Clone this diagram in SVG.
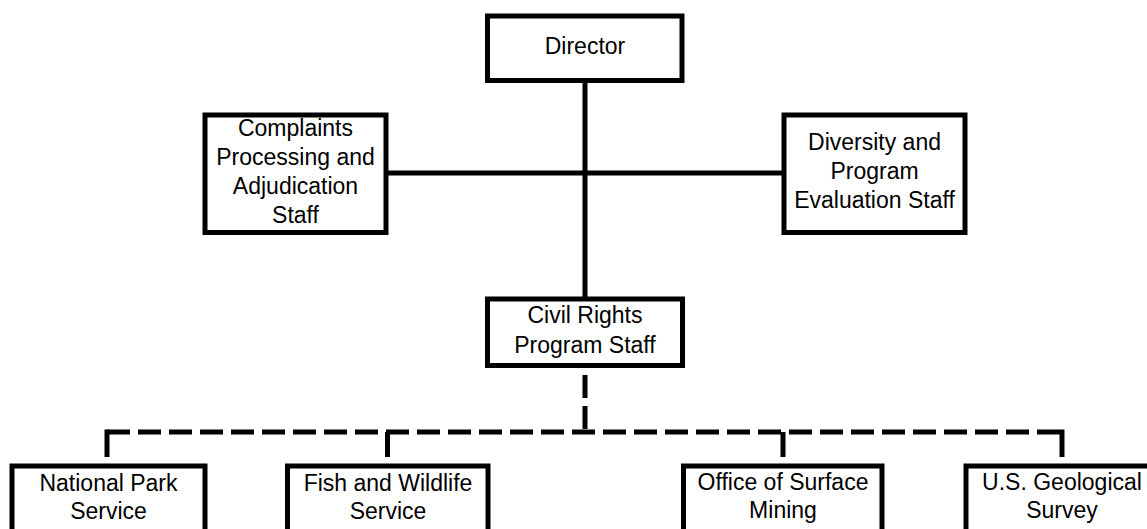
<svg xmlns="http://www.w3.org/2000/svg" width="1147" height="529" viewBox="0 0 1147 529">
<style>
.box{fill:#fff;stroke:#000;stroke-width:5}
.lbl{font-family:"Liberation Sans",Arial,sans-serif;font-size:23px;fill:#000;text-anchor:middle}
.ln{stroke:#000;stroke-width:5;fill:none}
.dash{stroke:#000;stroke-width:5;fill:none;stroke-dasharray:23 8}
</style>
<rect width="1147" height="529" fill="#fff"/>
<g id="connectors">
<line class="ln" x1="585" y1="80" x2="585" y2="299"/>
<line class="ln" x1="386" y1="173" x2="784" y2="173"/>
<line class="dash" x1="585" y1="375" x2="585" y2="432"/>
<line class="dash" x1="107" y1="432" x2="1062" y2="432"/>
<path class="ln" d="M107,429.5 V457 M387.5,432 V457 M783,432 V457 M1062,429.5 V457"/>
</g>
<g id="director">
<rect class="box" x="487.5" y="16" width="194.5" height="64.5"/>
<text class="lbl" x="585" y="54">Director</text>
</g>
<g id="complaints">
<rect class="box" x="205" y="115" width="181" height="117.5"/>
<text class="lbl" x="295.5" y="136">Complaints</text>
<text class="lbl" x="295.5" y="165">Processing and</text>
<text class="lbl" x="295.5" y="194">Adjudication</text>
<text class="lbl" x="295.5" y="223">Staff</text>
</g>
<g id="diversity">
<rect class="box" x="784" y="115" width="181" height="117.5"/>
<text class="lbl" x="874.5" y="150">Diversity and</text>
<text class="lbl" x="874.5" y="179">Program</text>
<text class="lbl" x="874.5" y="208">Evaluation Staff</text>
</g>
<g id="civil-rights">
<rect class="box" x="487.5" y="299" width="195" height="66.5"/>
<text class="lbl" x="585" y="323">Civil Rights</text>
<text class="lbl" x="585" y="353">Program Staff</text>
</g>
<g id="nps">
<rect class="box" x="12" y="466" width="193" height="100"/>
<text class="lbl" x="108.5" y="491">National Park</text>
<text class="lbl" x="108.5" y="519">Service</text>
</g>
<g id="fws">
<rect class="box" x="287.5" y="466" width="200.5" height="100"/>
<text class="lbl" x="388" y="491">Fish and Wildlife</text>
<text class="lbl" x="388" y="519">Service</text>
</g>
<g id="osm">
<rect class="box" x="683.5" y="466" width="198.5" height="100"/>
<text class="lbl" x="783" y="490">Office of Surface</text>
<text class="lbl" x="783" y="518">Mining</text>
</g>
<g id="usgs">
<rect class="box" x="966" y="466" width="200" height="100"/>
<text class="lbl" x="1062" y="490">U.S. Geological</text>
<text class="lbl" x="1062" y="518">Survey</text>
</g>
</svg>
